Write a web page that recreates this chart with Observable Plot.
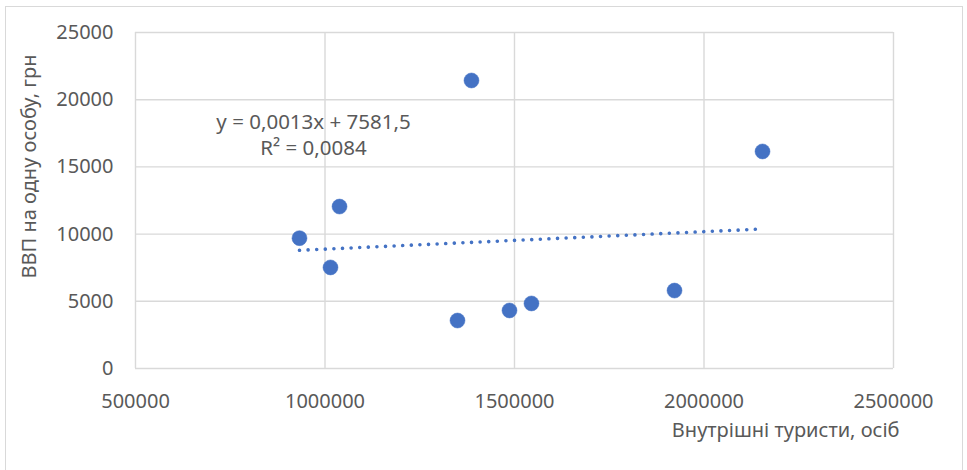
<!DOCTYPE html>
<html>
<head>
<meta charset="utf-8">
<script src="https://cdn.jsdelivr.net/npm/d3@7"></script>
<script src="https://cdn.jsdelivr.net/npm/@observablehq/plot@0.6"></script>
<style>
  html, body { margin: 0; padding: 0; background: #fff; overflow: hidden; }
  #wrap { position: relative; width: 967px; height: 470px; }
  #frame {
    position: absolute; left: 5px; top: 6px; width: 958px; height: 480px;
    border: 1.5px solid #d9d9d9; box-sizing: border-box;
  }
  #chart { position: absolute; left: 0; top: 0; }
</style>
</head>
<body>
<div id="wrap">
  <div id="frame"></div>
  <div id="chart"></div>
</div>
<script>
// Internal tourists (persons) vs GDP per capita (UAH)
const tourists = [932700, 1014500, 1038300, 1349600, 1386500, 1486800, 1544800, 1922200, 2154400];
const gdpPerCapita = [9700, 7520, 12050, 3570, 21430, 4320, 4840, 5800, 16150];

// Linear trend as reported: y = slope * x + intercept, with R²
const slope = 0.0013;
const intercept = 7581.5;
const rSquared = 0.0084;

const xTicks = [500000, 1000000, 1500000, 2000000, 2500000];
const yTicks = [0, 5000, 10000, 15000, 20000, 25000];

const xTitle = "Внутрішні туристи, осіб";
const yTitle = "ВВП на одну особу, грн";

const points = tourists.map((x, i) => ({x, y: gdpPerCapita[i]}));
const xMin = d3.min(tourists), xMax = d3.max(tourists);
const trend = [xMin, xMax].map(x => ({x, y: slope * x + intercept}));

const fmtComma = v => String(v).replace(".", ",");
const equation = `y = ${fmtComma(slope)}x + ${fmtComma(intercept)}\nR² = ${fmtComma(rSquared)}`;

const blue = "#4472C4";
const grid = "#d9d9d9";
const textColor = "#595959";
const font = "Noto Sans, sans-serif";

const chart = Plot.plot({
  width: 967,
  height: 470,
  marginLeft: 135,
  marginRight: 74,
  marginTop: 32,
  marginBottom: 102,
  style: {fontFamily: font, fontSize: "20px", color: textColor, background: "transparent", overflow: "visible"},
  x: {domain: [500000, 2500000]},
  y: {domain: [0, 25000]},
  marks: [
    Plot.ruleX(xTicks, {stroke: grid, strokeWidth: 1.4, strokeOpacity: 1}),
    Plot.ruleY(yTicks, {stroke: grid, strokeWidth: 1.4, strokeOpacity: 1}),
    Plot.axisX({ticks: xTicks, tickSize: 0, tickPadding: 25, tickFormat: d => String(d), fontSize: 20, label: null}),
    Plot.axisY({ticks: yTicks, tickSize: 0, tickPadding: 22, tickFormat: d => String(d), fontSize: 20, label: null}),
    Plot.line(trend, {x: "x", y: "y", stroke: blue, strokeWidth: 3.6, strokeDasharray: "0.01 8.6", strokeLinecap: "round"}),
    Plot.dot(points, {x: "x", y: "y", r: 7.5, fill: blue, stroke: blue, strokeWidth: 0.5}),
    Plot.text([equation], {frameAnchor: "top-left", dx: 178, dy: 101, text: d => d, fontSize: 20.5, lineHeight: 1.3, fill: textColor, textAnchor: "middle", lineAnchor: "middle"}),
    Plot.text([yTitle], {frameAnchor: "left", dx: -106, dy: -34, rotate: -90, text: d => d, fontSize: 20, fill: textColor, textAnchor: "middle", lineAnchor: "middle"}),
    Plot.text([xTitle], {frameAnchor: "bottom-right", dx: 6, dy: 62, text: d => d, fontSize: 20, fill: textColor, textAnchor: "end", lineAnchor: "middle"})
  ]
});

document.getElementById("chart").appendChild(chart);
</script>
</body>
</html>
